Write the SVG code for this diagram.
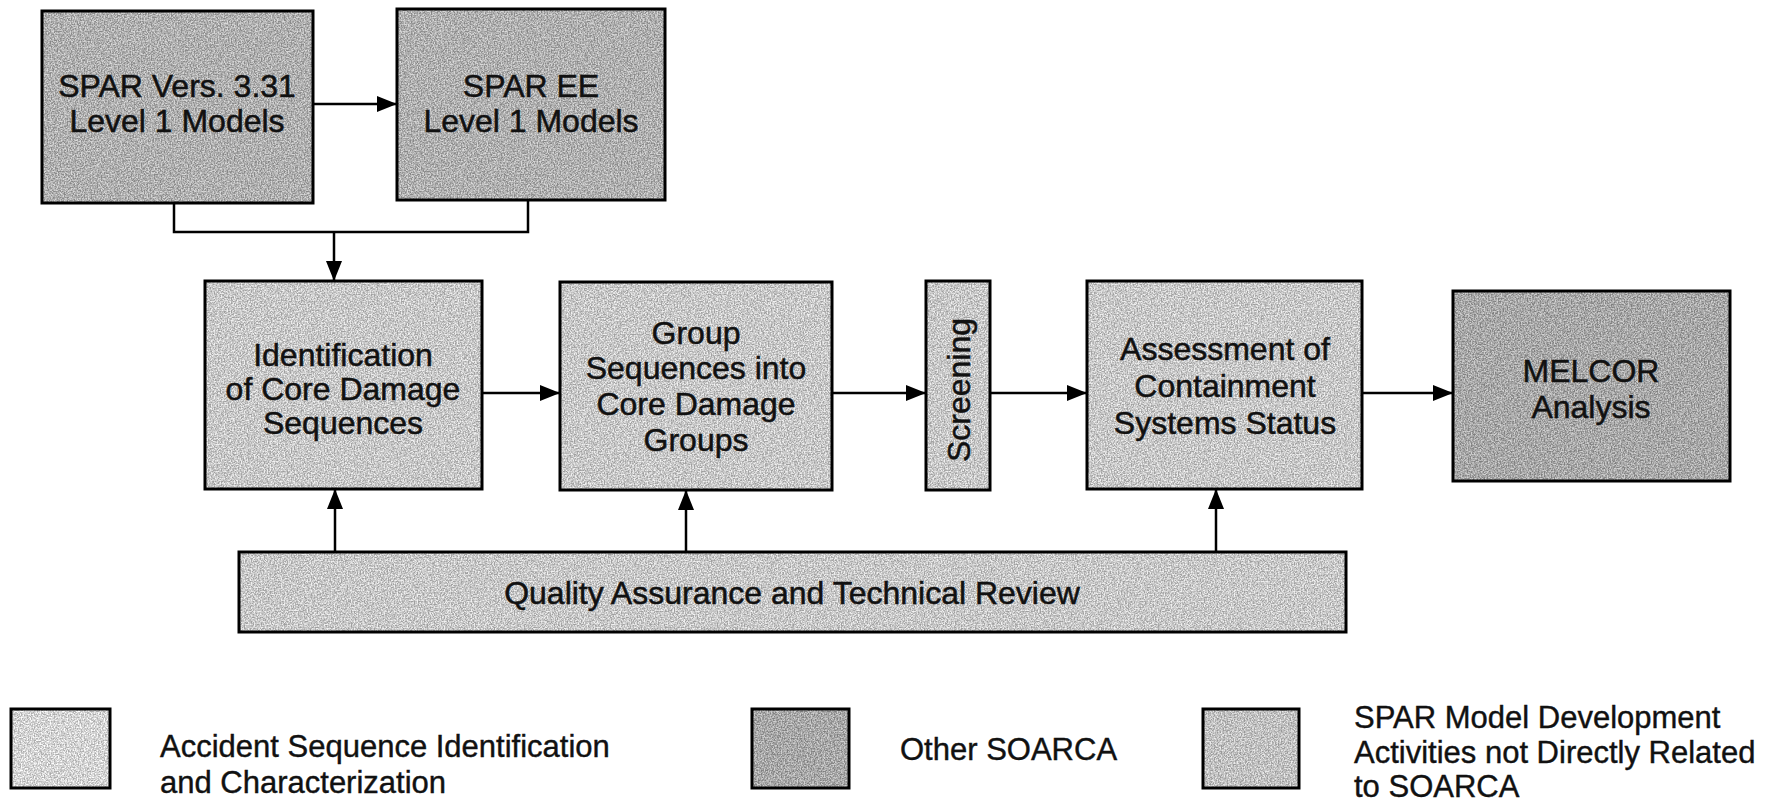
<svg xmlns="http://www.w3.org/2000/svg" width="1786" height="805" viewBox="0 0 1786 805">
<defs>
<filter id="grain" x="0" y="0" width="1" height="1" color-interpolation-filters="sRGB">
<feTurbulence type="fractalNoise" baseFrequency="0.7" numOctaves="2" seed="4" result="n"/>
<feColorMatrix in="n" type="matrix" values="2.4 0 0 0 -0.7  2.4 0 0 0 -0.7  2.4 0 0 0 -0.7  0 0 0 0 0.32" result="gn"/>
<feComposite in="gn" in2="SourceGraphic" operator="in" result="g2"/>
<feMerge><feMergeNode in="SourceGraphic"/><feMergeNode in="g2"/></feMerge>
</filter>
<marker id="ah" viewBox="0 0 20 16" refX="20" refY="8" markerWidth="20" markerHeight="16" markerUnits="userSpaceOnUse" orient="auto">
<path d="M0,0 L20,8 L0,16 z" fill="#000"/>
</marker>
</defs>
<style>
.box{stroke:#000;stroke-width:3;fill:none}
.a{fill:#ebebeb}
.o{fill:#bcbcbc}
.s{fill:#c8c8c8}
.s2{fill:#e0e0e0}
.w{fill:#fdfdfd}
.g{filter:url(#grain)}
.t{font-family:"Liberation Sans",Arial,sans-serif;font-size:32px;fill:#111;stroke:#111;stroke-width:0.5;text-anchor:middle}
.l{font-family:"Liberation Sans",Arial,sans-serif;font-size:31px;fill:#111;stroke:#111;stroke-width:0.4}
.c{fill:none;stroke:#000;stroke-width:2.5}
</style>
<rect width="1786" height="805" fill="#fff"/>

<g id="spar331">
<rect class="s g" x="42" y="11" width="271" height="192"/>
<rect class="box" x="42" y="11" width="271" height="192"/>
<text class="t"><tspan x="177" y="97">SPAR Vers. 3.31</tspan><tspan x="177" y="132">Level 1 Models</tspan></text>
</g>
<g id="sparee">
<rect class="s g" x="397" y="9" width="268" height="191"/>
<rect class="box" x="397" y="9" width="268" height="191"/>
<text class="t"><tspan x="531" y="97">SPAR EE</tspan><tspan x="531" y="132">Level 1 Models</tspan></text>
</g>
<g id="ident">
<rect class="a g" x="205" y="281" width="277" height="208"/>
<rect class="box" x="205" y="281" width="277" height="208"/>
<text class="t"><tspan x="343" y="366">Identification</tspan><tspan x="343" y="400">of Core Damage</tspan><tspan x="343" y="434">Sequences</tspan></text>
</g>
<g id="group">
<rect class="a g" x="560" y="282" width="272" height="208"/>
<rect class="box" x="560" y="282" width="272" height="208"/>
<text class="t"><tspan x="696" y="344">Group</tspan><tspan x="696" y="379">Sequences into</tspan><tspan x="696" y="415">Core Damage</tspan><tspan x="696" y="451">Groups</tspan></text>
</g>
<g id="screening">
<rect class="a g" x="926" y="281" width="64" height="209"/>
<rect class="box" x="926" y="281" width="64" height="209"/>
<text class="t" transform="translate(970,390) rotate(-90)" x="0" y="0">Screening</text>
</g>
<g id="assess">
<rect class="a g" x="1087" y="281" width="275" height="208"/>
<rect class="box" x="1087" y="281" width="275" height="208"/>
<text class="t"><tspan x="1225" y="360">Assessment of</tspan><tspan x="1225" y="397">Containment</tspan><tspan x="1225" y="434">Systems Status</tspan></text>
</g>
<g id="melcor">
<rect class="o g" x="1453" y="291" width="277" height="190"/>
<rect class="box" x="1453" y="291" width="277" height="190"/>
<text class="t"><tspan x="1591" y="382">MELCOR</tspan><tspan x="1591" y="418">Analysis</tspan></text>
</g>
<g id="qa">
<rect class="a g" x="239" y="552" width="1107" height="80"/>
<rect class="box" x="239" y="552" width="1107" height="80"/>
<text class="t" x="792" y="604">Quality Assurance and Technical Review</text>
</g>

<g id="connectors">
<line class="c" x1="313" y1="104" x2="397" y2="104" marker-end="url(#ah)"/>
<polyline class="c" points="174,203 174,232 528,232 528,200"/>
<line class="c" x1="334" y1="232" x2="334" y2="281" marker-end="url(#ah)"/>
<line class="c" x1="482" y1="393" x2="560" y2="393" marker-end="url(#ah)"/>
<line class="c" x1="832" y1="393" x2="926" y2="393" marker-end="url(#ah)"/>
<line class="c" x1="990" y1="393" x2="1087" y2="393" marker-end="url(#ah)"/>
<line class="c" x1="1362" y1="393" x2="1453" y2="393" marker-end="url(#ah)"/>
<line class="c" x1="335" y1="552" x2="335" y2="489" marker-end="url(#ah)"/>
<line class="c" x1="686" y1="552" x2="686" y2="490" marker-end="url(#ah)"/>
<line class="c" x1="1216" y1="552" x2="1216" y2="489" marker-end="url(#ah)"/>
</g>

<g id="legend">
<g id="leg1">
<rect class="w g" x="11" y="709" width="99" height="79"/>
<rect class="box" x="11" y="709" width="99" height="79"/>
<text class="l"><tspan x="160" y="757">Accident Sequence Identification</tspan><tspan x="160" y="793">and Characterization</tspan></text>
</g>
<g id="leg2">
<rect class="o g" x="752" y="709" width="97" height="79"/>
<rect class="box" x="752" y="709" width="97" height="79"/>
<text class="l" x="900" y="760">Other SOARCA</text>
</g>
<g id="leg3">
<rect class="s2 g" x="1203" y="709" width="96" height="79"/>
<rect class="box" x="1203" y="709" width="96" height="79"/>
<text class="l"><tspan x="1354" y="728">SPAR Model Development</tspan><tspan x="1354" y="763">Activities not Directly Related</tspan><tspan x="1354" y="797">to SOARCA</tspan></text>
</g>
</g>
</svg>
